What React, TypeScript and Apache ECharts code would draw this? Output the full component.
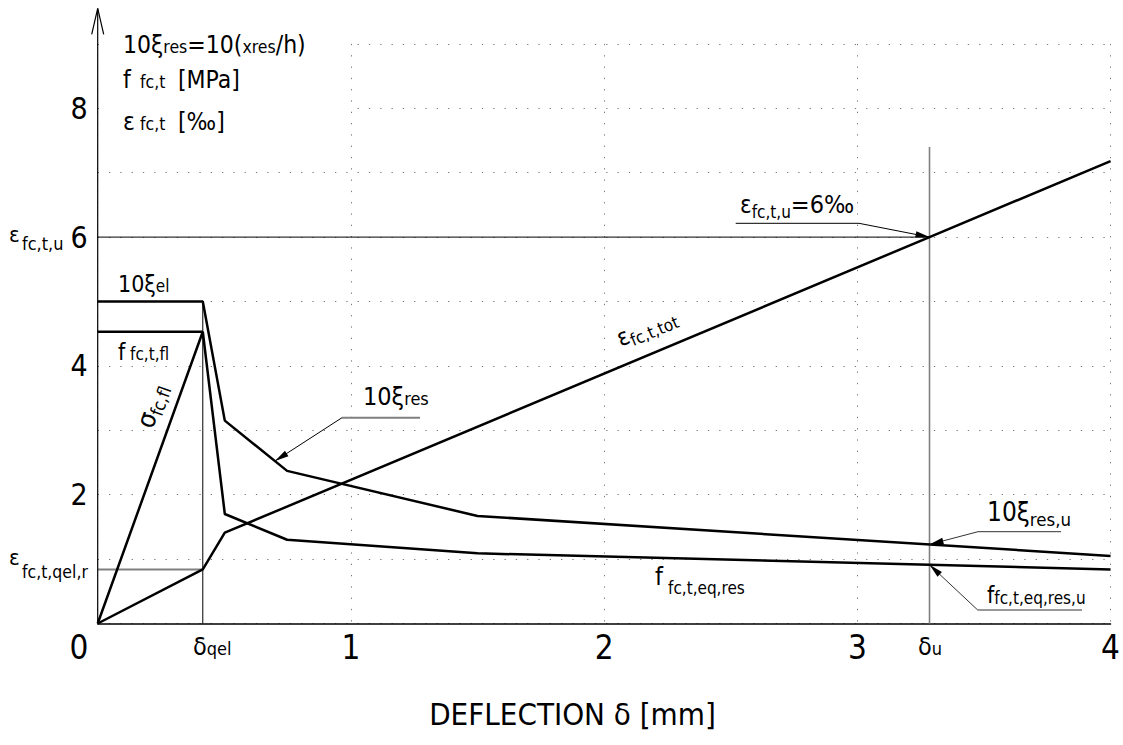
import React, { useEffect, useRef } from "react";
import * as echarts from "echarts";

const FONT = "'Liberation Sans Narrow', 'DejaVu Sans Condensed', 'Arial Narrow', 'Liberation Sans', sans-serif";

// axes
const X_MIN = 0;
const X_MAX = 4;
const X_STEP = 1;
const Y_MIN = 0;
const Y_MAX = 9;
const Y_STEP = 1;
const X_TICK_LABELS = [1, 2, 3, 4];
const Y_TICK_LABELS = [2, 4, 6, 8];
const Y_ARROW_TOP = 9.55;

// characteristic values
const DELTA_QEL = 0.415;
const DELTA_U = 3.285;
const EPS_U = 6;
const EPS_QEL_R = 0.84;
const XI_EL_10 = 5;
const DELTA_U_LINE_TOP = 7.4;
const XI_ARROW_AT = 0.7;

// 10ξ (elastic, then residual)
const xiDefl = [0, 0.415, 0.502, 0.748, 1.5, 4.0];
const xiVal = [5, 5, 3.15, 2.37, 1.67, 1.05];
// f_fc,t : σ_fc,fl rising to peak, then f_fc,t,eq,res
const fDefl = [0, 0.415, 0.502, 0.748, 1.5, 4.0];
const fVal = [0, 4.53, 1.7, 1.3, 1.09, 0.84];
// f_fc,t,fl level
const fFlDefl = [0, 0.415];
const fFlVal = [4.53, 4.53];
// ε_fc,t,tot
const epsDefl = [0, 0.415, 0.502, 3.285, 4.0];
const epsVal = [0, 0.84, 1.41, 6.0, 7.18];

const zip = (xs: number[], ys: number[]) => xs.map((x, i) => [x, ys[i]]);
function interp(xs: number[], ys: number[], x: number) {
  for (let i = 0; i < xs.length - 1; i++) {
    if (x >= xs[i] && x <= xs[i + 1]) {
      const t = (x - xs[i]) / (xs[i + 1] - xs[i]);
      return ys[i] + t * (ys[i + 1] - ys[i]);
    }
  }
  return ys[ys.length - 1];
}

const lineSeries = (name: string, data: number[][], color: string, width: number, z = 3) => ({
  type: "line",
  name,
  data,
  symbol: "none",
  silent: true,
  clip: false,
  z,
  lineStyle: { color, width },
});

let measureCtx: CanvasRenderingContext2D | null = null;
function textWidth(t: string, fs: number) {
  if (!measureCtx) measureCtx = document.createElement("canvas").getContext("2d");
  measureCtx!.font = `${fs}px ${FONT}`;
  return measureCtx!.measureText(t).width;
}

type Part = [string, number, number?];
const K = 0.35;
function pieces(parts: Part[], x0: number, base: number) {
  let x = x0;
  const out: any[] = [];
  for (const [t, fs, dy = 0] of parts) {
    out.push({
      type: "text",
      z: 10,
      silent: true,
      x,
      y: base + dy - K * fs,
      style: { text: t, fontSize: fs, fontFamily: FONT, fill: "#000", align: "left", verticalAlign: "middle" },
    });
    x += textWidth(t, fs);
  }
  return out;
}
function label(parts: Part[], x: number, baseline: number, rotation = 0): any[] {
  if (!rotation) return pieces(parts, x, baseline);
  return [{ type: "group", x, y: baseline, rotation, z: 10, silent: true, children: pieces(parts, 0, 0) }];
}

function arrowHead(from: number[], tip: number[], len = 14, half = 3.2) {
  const dx = tip[0] - from[0];
  const dy = tip[1] - from[1];
  const L = Math.hypot(dx, dy);
  const ux = dx / L;
  const uy = dy / L;
  const bx = tip[0] - ux * len;
  const by = tip[1] - uy * len;
  return {
    type: "polygon",
    z: 9,
    silent: true,
    shape: { points: [[tip[0], tip[1]], [bx - uy * half, by + ux * half], [bx + uy * half, by - ux * half]] },
    style: { fill: "#000" },
  };
}

export default function App() {
  const ref = useRef<HTMLDivElement>(null);
  useEffect(() => {
    document.body.style.margin = "0";
    const chart = echarts.init(ref.current!, null, { renderer: "svg" });
    const dotted = { show: true, lineStyle: { type: [1.3, 10], color: "#7a7a7a", width: 1 } };
    chart.setOption({
      animation: false,
      backgroundColor: "#fff",
      grid: { left: 97.7, right: 10.7, top: 43.9, bottom: 121.5, containLabel: false },
      xAxis: {
        type: "value",
        min: X_MIN,
        max: X_MAX,
        interval: X_STEP,
        axisLine: { show: true, onZero: false, lineStyle: { color: "#000", width: 1.5 } },
        axisTick: { show: false },
        splitLine: dotted,
        axisLabel: {
          formatter: (v: number) => (X_TICK_LABELS.includes(v) ? String(v) : ""),
          fontSize: 33,
          fontFamily: FONT,
          color: "#000",
          margin: 7,
        },
      },
      yAxis: {
        type: "value",
        min: Y_MIN,
        max: Y_MAX,
        interval: Y_STEP,
        axisLine: { show: false },
        axisTick: { show: false },
        splitLine: dotted,
        axisLabel: {
          formatter: (v: number) => (Y_TICK_LABELS.includes(v) ? String(v) : ""),
          fontSize: 30,
          fontFamily: FONT,
          color: "#000",
          margin: 10,
        },
      },
      series: [
        lineSeries("10ξ", zip(xiDefl, xiVal), "#000", 2.5),
        lineSeries("f_fc,t,fl", zip(fFlDefl, fFlVal), "#000", 2.5),
        lineSeries("f_fc,t", zip(fDefl, fVal), "#000", 2.5),
        lineSeries("ε_fc,t,tot", zip(epsDefl, epsVal), "#000", 2.5),
        lineSeries("ε_fc,t,u", [[X_MIN, EPS_U], [DELTA_U, EPS_U]], "#000", 1, 2),
        lineSeries("ε_fc,t,qel,r", [[X_MIN, EPS_QEL_R], [DELTA_QEL, EPS_QEL_R]], "#808080", 2, 2),
        lineSeries("δqel", [[DELTA_QEL, 0], [DELTA_QEL, XI_EL_10]], "#000", 1, 2),
        lineSeries("δu", [[DELTA_U, 0], [DELTA_U, DELTA_U_LINE_TOP]], "#808080", 1.6, 2),
      ],
    });

    const px = (x: number, y: number) => chart.convertToPixel({ gridIndex: 0 }, [x, y]) as number[];
    const o = px(X_MIN, Y_MIN);
    const top = px(X_MIN, Y_ARROW_TOP);
    const g: any[] = [];
    // white panel behind the legend text block (hides grid dots)
    g.push({ type: "rect", z: 1, silent: true, shape: { x: 99.5, y: 0, width: 249, height: 140 }, style: { fill: "#fff" } });
    // y-axis with open arrow
    g.push({ type: "line", z: 5, silent: true, shape: { x1: o[0], y1: o[1], x2: top[0], y2: top[1] }, style: { stroke: "#000", lineWidth: 1.2 } });
    g.push({
      type: "polyline",
      z: 5,
      silent: true,
      shape: { points: [[top[0] - 6, top[1] + 26], [top[0], top[1]], [top[0] + 6, top[1] + 26]] },
      style: { stroke: "#000", lineWidth: 1.2, fill: null },
    });

    // leaders
    const tipEpsU = px(DELTA_U, EPS_U);
    g.push({ type: "polyline", z: 9, silent: true, shape: { points: [[735.7, 223.3], [859, 223.3], tipEpsU] }, style: { stroke: "#000", lineWidth: 1, fill: null } });
    g.push(arrowHead([859, 223.3], tipEpsU));

    const tipXi = px(XI_ARROW_AT, interp(xiDefl, xiVal, XI_ARROW_AT));
    g.push({ type: "line", z: 9, silent: true, shape: { x1: 342, y1: 417.7, x2: 420, y2: 417.7 }, style: { stroke: "#808080", lineWidth: 2 } });
    g.push({ type: "line", z: 9, silent: true, shape: { x1: 342, y1: 417.7, x2: tipXi[0], y2: tipXi[1] }, style: { stroke: "#000", lineWidth: 1 } });
    g.push(arrowHead([342, 417.7], tipXi));

    const tipXiU = px(DELTA_U, interp(xiDefl, xiVal, DELTA_U));
    g.push({ type: "polyline", z: 9, silent: true, shape: { points: [[1061, 531.7], [978, 531.7], tipXiU] }, style: { stroke: "#333", lineWidth: 1, fill: null } });
    g.push(arrowHead([978, 531.7], tipXiU));

    const tipFU = px(DELTA_U, interp(fDefl, fVal, DELTA_U));
    g.push({ type: "polyline", z: 9, silent: true, shape: { points: [[1082, 610], [977.7, 610], tipFU] }, style: { stroke: "#333", lineWidth: 1, fill: null } });
    g.push(arrowHead([977.7, 610], tipFU));

    // legend block (top-left)
    g.push(...label([["10ξ", 24.5], ["res", 17.5], ["=10(", 24.5], ["xres", 17.5], ["/h)", 24.5]], 123, 52.7));
    g.push(...label([["f", 24.5]], 123, 88));
    g.push(...label([["fc,t", 17.5]], 140, 88));
    g.push(...label([["[MPa]", 24.5]], 178, 88));
    g.push(...label([["ε", 24.5]], 123, 130));
    g.push(...label([["fc,t", 17.5]], 140, 130));
    g.push(...label([["[‰]", 24.5]], 178, 130));

    // curve labels
    g.push(...label([["10ξ", 23], ["el", 17]], 118, 292));
    g.push(...label([["f", 23]], 118, 360));
    g.push(...label([["fc,t,fl", 17]], 130, 360));
    g.push(...label([["10ξ", 25], ["res", 18]], 363, 405));
    g.push(...label([["ε", 24], ["fc,t,u", 17, 5], ["=6‰", 25]], 740, 213));
    g.push(...label([["10ξ", 26], ["res,u", 18.5, 5]], 987, 520.7));
    g.push(...label([["f", 25]], 655, 585));
    g.push(...label([["fc,t,eq,res", 17]], 668, 594));
    g.push(...label([["f", 23], ["fc,t,eq,res,u", 17, 1]], 987, 603));
    g.push(...label([["σ", 26], ["fc,fl", 18, 4]], 152.7, 429.8, (70.2 * Math.PI) / 180));
    g.push(...label([["ε", 24], ["fc,t,tot", 17, 4]], 621, 347, (22.7 * Math.PI) / 180));

    // y-side labels
    g.push(...label([["ε", 22]], 9, 241.7));
    g.push(...label([["fc,t,u", 18]], 22, 250));
    g.push(...label([["ε", 22]], 9, 565));
    g.push(...label([["fc,t,qel,r", 17.5]], 22, 578));

    // x-side labels
    g.push(...label([["δ", 25], ["qel", 18]], 193, 655));
    g.push(...label([["δ", 25], ["u", 18]], 918, 655));
    g.push({ type: "text", z: 10, silent: true, x: 79, y: 647.5, style: { text: "0", fontSize: 33, fontFamily: FONT, fill: "#000", align: "center", verticalAlign: "middle" } });
    g.push({ type: "text", z: 10, silent: true, x: 572.5, y: 714, style: { text: "DEFLECTION δ [mm]", fontSize: 31, fontFamily: FONT, fill: "#000", align: "center", verticalAlign: "middle" } });

    chart.setOption({ graphic: g });
    return () => chart.dispose();
  }, []);
  return <div ref={ref} style={{ width: 1123, height: 745 }} />;
}
